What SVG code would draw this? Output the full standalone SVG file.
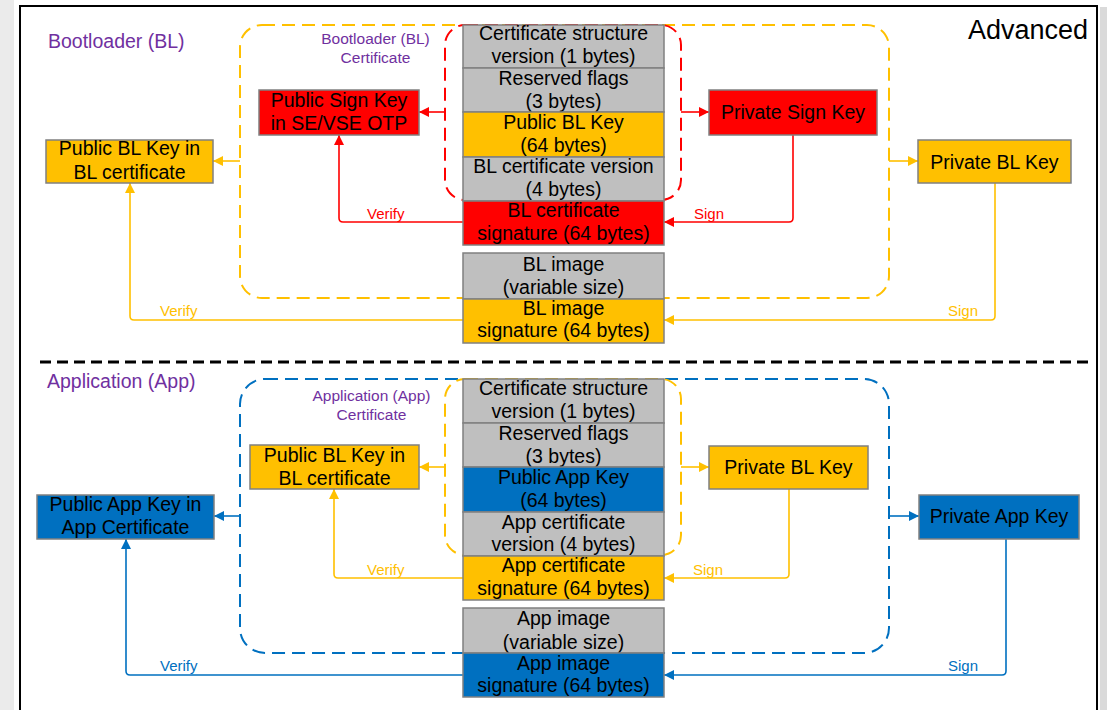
<svg xmlns="http://www.w3.org/2000/svg" width="1107" height="710" viewBox="0 0 1107 710">
<style>
.t{font-family:"Liberation Sans",Arial,sans-serif;font-size:19.5px;fill:#000;text-anchor:middle}
.p{font-family:"Liberation Sans",Arial,sans-serif;fill:#7030A0}
.lb{font-family:"Liberation Sans",Arial,sans-serif;font-size:15px}
.box{stroke:#808080;stroke-width:1.5}
.g{fill:#BFBFBF}.y{fill:#FFC000}.r{fill:#FF0000}.b{fill:#0070C0}
.dash{fill:none;stroke-width:2;stroke-dasharray:13 7}
.c{fill:none;stroke-width:1.6}
.cr{stroke:#FF0000}.cy{stroke:#FFC000}.cb{stroke:#0070C0}
</style>
<defs>
<marker id="ar" viewBox="0 0 10 10" refX="10" refY="5" markerWidth="10" markerHeight="10" markerUnits="userSpaceOnUse" orient="auto"><path d="M0,0 L10,5 L0,10 z" fill="#FF0000"/></marker>
<marker id="ay" viewBox="0 0 10 10" refX="10" refY="5" markerWidth="10" markerHeight="10" markerUnits="userSpaceOnUse" orient="auto"><path d="M0,0 L10,5 L0,10 z" fill="#FFC000"/></marker>
<marker id="ab" viewBox="0 0 10 10" refX="10" refY="5" markerWidth="10" markerHeight="10" markerUnits="userSpaceOnUse" orient="auto"><path d="M0,0 L10,5 L0,10 z" fill="#0070C0"/></marker>
</defs>
<rect x="0" y="0" width="1107" height="710" fill="#fff"/>
<rect x="0" y="0" width="14" height="710" fill="#ebebeb"/>
<rect x="1100" y="7" width="7" height="703" fill="#dadada"/>
<rect x="20" y="6" width="1077" height="720" fill="#fff" stroke="#000" stroke-width="2"/>
<line x1="40" y1="362" x2="1092" y2="362" stroke="#000" stroke-width="3" stroke-dasharray="11 6"/>

<g id="labels">
<text class="p" x="48" y="48" font-size="19.5">Bootloader (BL)</text>
<text class="p" x="47" y="388" font-size="19.5">Application (App)</text>
<text x="968" y="39" font-family="Liberation Sans,Arial,sans-serif" font-size="27" fill="#000">Advanced</text>
<text class="p" x="375.5" y="44" font-size="15.5" text-anchor="middle">Bootloader (BL)</text>
<text class="p" x="375.5" y="62.5" font-size="15.5" text-anchor="middle">Certificate</text>
<text class="p" x="371.5" y="401" font-size="15.5" text-anchor="middle">Application (App)</text>
<text class="p" x="371.5" y="419.5" font-size="15.5" text-anchor="middle">Certificate</text>
</g>

<g id="containers">
<rect id="bl-outer" class="dash" x="240" y="25" width="649" height="273" rx="22" stroke="#FFC000"/>
<rect id="bl-cert" class="dash" x="445" y="25" width="236" height="175" rx="20" stroke="#FF0000"/>
<rect id="app-outer" class="dash" x="240" y="379" width="649" height="274" rx="25" stroke="#0070C0"/>
<rect id="app-cert" class="dash" x="445" y="379" width="236" height="176" rx="20" stroke="#FFC000"/>
</g>

<g id="connectors">
<path class="c cr" d="M445,112 H419" marker-end="url(#ar)"/>
<path class="c cr" d="M681,112 H709" marker-end="url(#ar)"/>
<path class="c cy" d="M240,161 H213" marker-end="url(#ay)"/>
<path class="c cy" d="M889,161 H918" marker-end="url(#ay)"/>
<path class="c cr" d="M463,222 H343 Q339,222 339,218 V135" marker-end="url(#ar)"/>
<path class="c cr" d="M793,135 V218 Q793,222 789,222 H664" marker-end="url(#ar)"/>
<path class="c cy" d="M463,320 H134 Q130,320 130,316 V183" marker-end="url(#ay)"/>
<path class="c cy" d="M995,183 V316 Q995,320 991,320 H664" marker-end="url(#ay)"/>
<path class="c cy" d="M445,467 H419" marker-end="url(#ay)"/>
<path class="c cy" d="M681,467 H709" marker-end="url(#ay)"/>
<path class="c cb" d="M240,516 H214" marker-end="url(#ab)"/>
<path class="c cb" d="M889,516 H919" marker-end="url(#ab)"/>
<path class="c cy" d="M463,578 H338 Q334,578 334,574 V489" marker-end="url(#ay)"/>
<path class="c cy" d="M789,489 V574 Q789,578 785,578 H664" marker-end="url(#ay)"/>
<path class="c cb" d="M463,675 H130 Q126,675 126,671 V539" marker-end="url(#ab)"/>
<path class="c cb" d="M1006,539 V671 Q1006,675 1002,675 H664" marker-end="url(#ab)"/>
<text class="lb" x="367" y="219" fill="#FF0000">Verify</text>
<text class="lb" x="694" y="219" fill="#FF0000">Sign</text>
<text class="lb" x="160" y="316" fill="#FFC000">Verify</text>
<text class="lb" x="948" y="316" fill="#FFC000">Sign</text>
<text class="lb" x="367" y="575" fill="#FFC000">Verify</text>
<text class="lb" x="693" y="575" fill="#FFC000">Sign</text>
<text class="lb" x="160" y="671" fill="#0070C0">Verify</text>
<text class="lb" x="948" y="671" fill="#0070C0">Sign</text>
</g>

<g id="bl-stack">
<g id="bl-csv"><rect class="box g" x="463" y="25" width="201" height="43"/><text class="t" x="563.5" y="40">Certificate structure</text><text class="t" x="563.5" y="63">version (1 bytes)</text></g>
<g id="bl-flags"><rect class="box g" x="463" y="68" width="201" height="44"/><text class="t" x="563.5" y="85">Reserved flags</text><text class="t" x="563.5" y="108">(3 bytes)</text></g>
<g id="bl-pubkey"><rect class="box y" x="463" y="112" width="201" height="45"/><text class="t" x="563.5" y="129">Public BL Key</text><text class="t" x="563.5" y="152">(64 bytes)</text></g>
<g id="bl-certver"><rect class="box g" x="463" y="157" width="201" height="44"/><text class="t" x="563.5" y="173">BL certificate version</text><text class="t" x="563.5" y="196">(4 bytes)</text></g>
<g id="bl-certsig"><rect class="box r" x="463" y="201" width="201" height="44"/><text class="t" x="563.5" y="217">BL certificate</text><text class="t" x="563.5" y="240">signature (64 bytes)</text></g>
<g id="bl-image"><rect class="box g" x="463" y="253" width="201" height="46"/><text class="t" x="563.5" y="271">BL image</text><text class="t" x="563.5" y="294">(variable size)</text></g>
<g id="bl-imgsig"><rect class="box y" x="463" y="299" width="201" height="44"/><text class="t" x="563.5" y="315">BL image</text><text class="t" x="563.5" y="337">signature (64 bytes)</text></g>
</g>

<g id="bl-keys">
<g id="pub-sign-key"><rect class="box r" x="259" y="90" width="160" height="45"/><text class="t" x="339" y="107">Public Sign Key</text><text class="t" x="339" y="130">in SE/VSE OTP</text></g>
<g id="pub-bl-key-top"><rect class="box y" x="46" y="140" width="167" height="43"/><text class="t" x="129.5" y="155">Public BL Key in</text><text class="t" x="129.5" y="179">BL certificate</text></g>
<g id="priv-sign-key"><rect class="box r" x="709" y="90" width="168" height="45"/><text class="t" x="793" y="119">Private Sign Key</text></g>
<g id="priv-bl-key-top"><rect class="box y" x="918" y="140" width="153" height="43"/><text class="t" x="994.5" y="169">Private BL Key</text></g>
</g>

<g id="app-stack">
<g id="app-csv"><rect class="box g" x="463" y="379" width="201" height="44"/><text class="t" x="563.5" y="395">Certificate structure</text><text class="t" x="563.5" y="418">version (1 bytes)</text></g>
<g id="app-flags"><rect class="box g" x="463" y="423" width="201" height="44"/><text class="t" x="563.5" y="440">Reserved flags</text><text class="t" x="563.5" y="463">(3 bytes)</text></g>
<g id="app-pubkey"><rect class="box b" x="463" y="467" width="201" height="45"/><text class="t" x="563.5" y="484">Public App Key</text><text class="t" x="563.5" y="507">(64 bytes)</text></g>
<g id="app-certver"><rect class="box g" x="463" y="512" width="201" height="44"/><text class="t" x="563.5" y="529">App certificate</text><text class="t" x="563.5" y="551">version (4 bytes)</text></g>
<g id="app-certsig"><rect class="box y" x="463" y="556" width="201" height="44"/><text class="t" x="563.5" y="572">App certificate</text><text class="t" x="563.5" y="595">signature (64 bytes)</text></g>
<g id="app-image"><rect class="box g" x="463" y="608" width="201" height="45"/><text class="t" x="563.5" y="625">App image</text><text class="t" x="563.5" y="649">(variable size)</text></g>
<g id="app-imgsig"><rect class="box b" x="463" y="653" width="201" height="44"/><text class="t" x="563.5" y="670">App image</text><text class="t" x="563.5" y="692">signature (64 bytes)</text></g>
</g>

<g id="app-keys">
<g id="pub-bl-key-bottom"><rect class="box y" x="250" y="445" width="169" height="44"/><text class="t" x="334.5" y="462">Public BL Key in</text><text class="t" x="334.5" y="485">BL certificate</text></g>
<g id="pub-app-key"><rect class="box b" x="37" y="495" width="177" height="44"/><text class="t" x="125.5" y="511">Public App Key in</text><text class="t" x="125.5" y="534">App Certificate</text></g>
<g id="priv-bl-key-bottom"><rect class="box y" x="709" y="446" width="159" height="43"/><text class="t" x="788.5" y="474">Private BL Key</text></g>
<g id="priv-app-key"><rect class="box b" x="919" y="495" width="160" height="44"/><text class="t" x="999" y="523">Private App Key</text></g>
</g>
</svg>
